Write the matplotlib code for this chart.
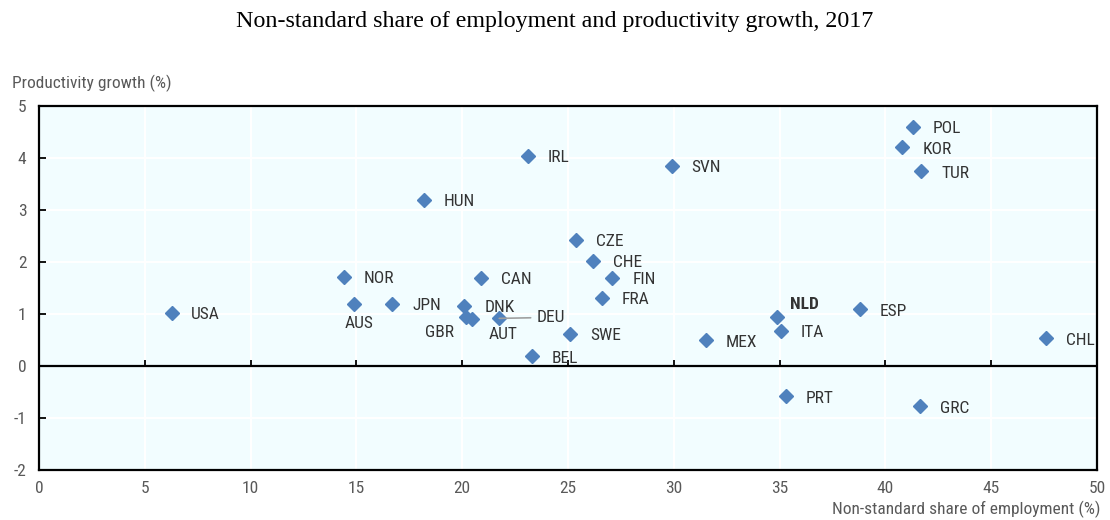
import matplotlib
matplotlib.use("Agg")
import matplotlib.pyplot as plt
from matplotlib import font_manager

plt.rcParams["axes.unicode_minus"] = False
names = {f.name for f in font_manager.fontManager.ttflist}
sans = "Liberation Sans"
for cand in ["Liberation Sans Narrow", "Roboto Condensed", "Arial Narrow"]:
    if cand in names:
        sans = cand
        break
narrow = sans != "Liberation Sans"
fs_lab = 12.5 if narrow else 11
fs_tick = 12.5 if narrow else 11

countries = ["USA", "NOR", "AUS", "JPN", "HUN", "IRL", "SVN", "CZE", "CHE", "FIN",
             "FRA", "CAN", "DNK", "GBR", "AUT", "DEU", "SWE", "BEL", "MEX", "NLD",
             "ITA", "ESP", "CHL", "PRT", "GRC", "POL", "KOR", "TUR"]
nonstandard = [6.3, 14.4, 14.9, 16.7, 18.2, 23.1, 29.9, 25.4, 26.2, 27.1,
               26.6, 20.9, 20.1, 20.2, 20.45, 21.75, 25.1, 23.3, 31.5, 34.9,
               35.05, 38.8, 47.6, 35.3, 41.65, 41.3, 40.8, 41.7]
productivity = [1.02, 1.71, 1.19, 1.19, 3.19, 4.04, 3.85, 2.42, 2.02, 1.69,
                1.31, 1.69, 1.15, 0.94, 0.90, 0.91, 0.61, 0.18, 0.49, 0.93,
                0.67, 1.09, 0.53, -0.59, -0.78, 4.60, 4.21, 3.74]

xticks = [0, 5, 10, 15, 20, 25, 30, 35, 40, 45, 50]
yticks = [-2, -1, 0, 1, 2, 3, 4, 5]

fig = plt.figure(figsize=(11.1, 5.2), dpi=100)
ax = fig.add_axes([39 / 1110, 1 - 469.5 / 520, (1097 - 39) / 1110, (469.5 - 106) / 520])
ax.set_facecolor("#F2FDFF")
ax.set_xlim(0, 50)
ax.set_ylim(-2, 5)
ax.set_xticks(xticks)
ax.set_yticks(yticks)
ax.grid(True, color="white", linewidth=1.5)
ax.set_axisbelow(True)
for s in ax.spines.values():
    s.set_color("black")
    s.set_linewidth(1.6)
ax.axhline(0, color="black", linewidth=1.6, zorder=2)
ax.tick_params(axis="x", length=0, pad=8, labelsize=fs_tick, labelcolor="#595959")
ax.tick_params(axis="y", direction="in", length=5, width=1.3, pad=9, labelsize=fs_tick,
               labelcolor="#595959")
for lab in ax.get_xticklabels() + ax.get_yticklabels():
    lab.set_fontfamily(sans)
ax.vlines(xticks[1:-1], 0, 0.1, color="black", linewidth=1.3, zorder=2)

ax.plot(nonstandard, productivity, linestyle="none", marker="D", markersize=6.8,
        color="#4F81BD", zorder=4)

default_off = (20, -2)
special = {
    "AUS": ((5, -20), "center"),
    "GBR": ((-27, -16), "center"),
    "AUT": ((31, -16), "center"),
    "DEU": ((37, 1), "left"),
    "NLD": ((13, 13), "left"),
    "USA": ((19, -2), "left"),
}
for c, xv, yv in zip(countries, nonstandard, productivity):
    off, ha = special.get(c, (default_off, "left"))
    kw = {}
    if c == "DEU":
        kw["arrowprops"] = dict(arrowstyle="-", color="#A0A0A0", lw=1.2,
                                shrinkA=2, shrinkB=0)
    ax.annotate(c, (xv, yv), xytext=off, textcoords="offset pixels", ha=ha,
                va="center", fontsize=fs_lab, color="#333333", family=sans,
                fontweight="bold" if c == "NLD" else "normal", zorder=5, **kw)

fig.text(0.5, 1 - 22 / 520, "Non-standard share of employment and productivity growth, 2017",
         ha="center", va="center", fontsize=17.3, family="Liberation Serif", color="black")
fig.text(12 / 1110, 1 - 83 / 520, "Productivity growth (%)", ha="left", va="center",
         fontsize=fs_lab, family=sans, color="#595959")
fig.text(1101 / 1110, 1 - 509 / 520, "Non-standard share of employment (%)", ha="right",
         va="center", fontsize=fs_lab, family=sans, color="#595959")

fig.savefig("out.png", dpi=100)
